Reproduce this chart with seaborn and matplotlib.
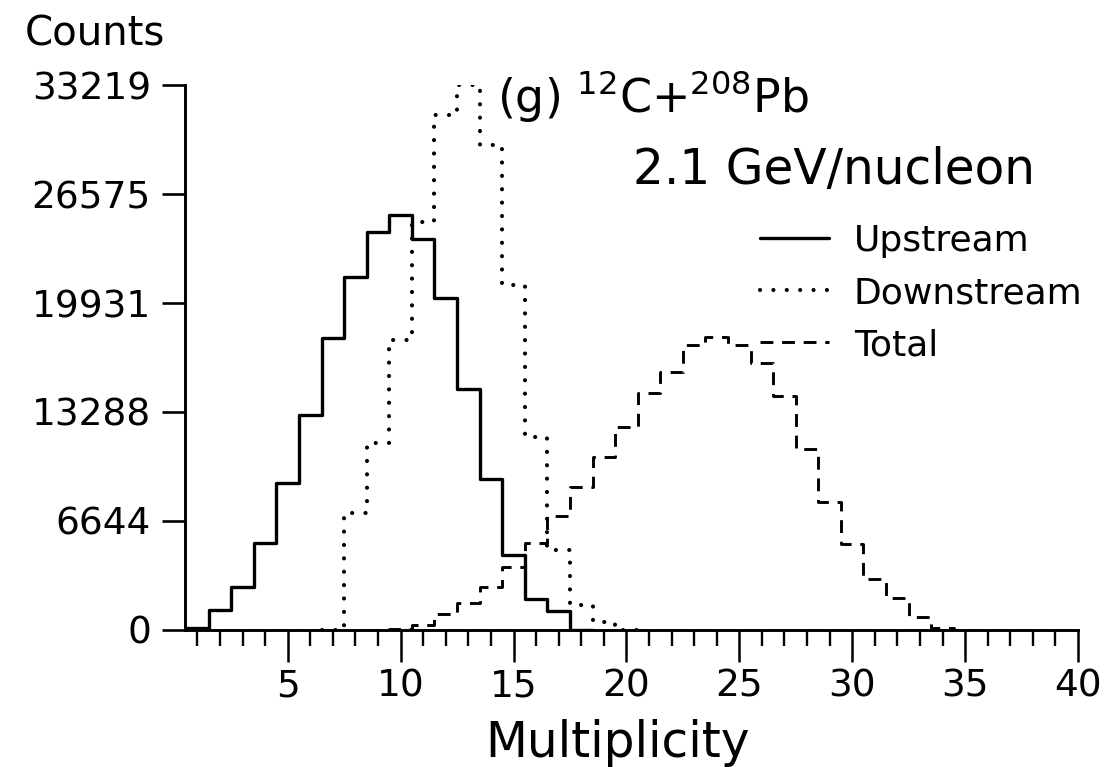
import numpy as np
import pandas as pd
import matplotlib
matplotlib.use("Agg")
import matplotlib.pyplot as plt
import seaborn as sns

# ---- data (counts per multiplicity bin) ----
up_mult = list(range(0, 19))
up_counts = [0, 150, 1220, 2620, 5300, 8960, 13100, 17800, 21500, 24260, 25300,
             23830, 20240, 14690, 9200, 4570, 1890, 1160, 0]
down_mult = list(range(7, 21))
down_counts = [0, 7130, 11400, 17680, 24870, 31390, 33219, 29560, 21030, 11760,
               4880, 1520, 490, 0]
total_mult = list(range(9, 36))
total_counts = [0, 80, 300, 975, 1650, 2620, 3840, 5300, 6950, 8720, 10540, 12370,
                14440, 15730, 17370, 17860, 17370, 16270, 14260, 11030, 7800, 5240,
                3110, 1950, 790, 150, 0]
series_labels = ["Upstream", "Downstream", "Total"]
ytick_vals = [0, 6644, 13288, 19931, 26575, 33219]
xtick_major = [5, 10, 15, 20, 25, 30, 35, 40]
xtick_minor = list(range(1, 41))

W, H = 1105, 767
sns.set_theme(style="ticks")
plt.rcParams["font.family"] = ["DejaVu Sans"]

fig = plt.figure(figsize=(W / 100, H / 100), dpi=100)
ax_l, ax_r, ax_t, ax_b = 185, 1078, 85, 630
ax = fig.add_axes([ax_l / W, 1 - ax_b / H, (ax_r - ax_l) / W, (ax_b - ax_t) / H])

sns.histplot(x=up_mult, weights=up_counts, discrete=True, element="step",
             fill=False, color="black", linewidth=2.4, linestyle="-", ax=ax,
             label=series_labels[0])
sns.histplot(x=down_mult, weights=down_counts, discrete=True, element="step",
             fill=False, color="black", linewidth=3.0, linestyle=(0, (0.01, 3.2)),
             dash_capstyle="round", ax=ax, label=series_labels[1])
sns.histplot(x=total_mult, weights=total_counts, discrete=True, element="step",
             fill=False, color="black", linewidth=2.1, linestyle=(0, (4.4, 3.0)),
             ax=ax, label=series_labels[2])

ax.set_xlim(0.45, 40)
ax.set_ylim(0, 33219)
sns.despine(ax=ax)
for s in ("left", "bottom"):
    ax.spines[s].set_linewidth(2.1)
    ax.spines[s].set_color("black")

ax.set_yticks(ytick_vals)
ax.set_yticklabels([str(v) for v in ytick_vals])
ax.set_xticks(xtick_major)
ax.set_xticklabels([str(v) for v in xtick_major])
ax.set_xticks(xtick_minor, minor=True)
ax.tick_params(axis="y", which="major", direction="out", length=16.5, width=1.9,
               pad=8, labelsize=27, colors="black")
ax.tick_params(axis="x", which="major", direction="out", length=23, width=1.8,
               pad=5, labelsize=27, colors="black")
ax.tick_params(axis="x", which="minor", direction="out", length=11.5, width=1.7,
               colors="black")

ax.set_xlabel("Multiplicity", fontsize=35, color="black")
ax.xaxis.set_label_coords((617 - ax_l) / (ax_r - ax_l), -(757 - ax_b) / (ax_b - ax_t))
ax.xaxis.label.set_verticalalignment("baseline")
ax.set_ylabel("Counts", fontsize=29, rotation=0, color="black")
ax.yaxis.set_label_coords((25 - ax_l) / (ax_r - ax_l), (ax_b - 45) / (ax_b - ax_t))
ax.yaxis.label.set_horizontalalignment("left")
ax.yaxis.label.set_verticalalignment("baseline")

fig.text(497 / W, 1 - 112 / H, r"(g) $^{12}$C+$^{208}$Pb", fontsize=33,
         ha="left", va="baseline", color="black")
fig.text(633 / W, 1 - 184 / H, "2.1 GeV/nucleon", fontsize=35,
         ha="left", va="baseline", color="black")

handles = ax.lines[:3]
ax.legend(handles=handles, labels=series_labels, loc="upper left",
          bbox_to_anchor=(760 / W, 1 - 224 / H), bbox_transform=fig.transFigure,
          frameon=False, fontsize=26, labelcolor="black", handlelength=1.9,
          handletextpad=0.7, labelspacing=0.5, borderpad=0, borderaxespad=0)

fig.savefig("out.png", dpi=100, facecolor="white")
